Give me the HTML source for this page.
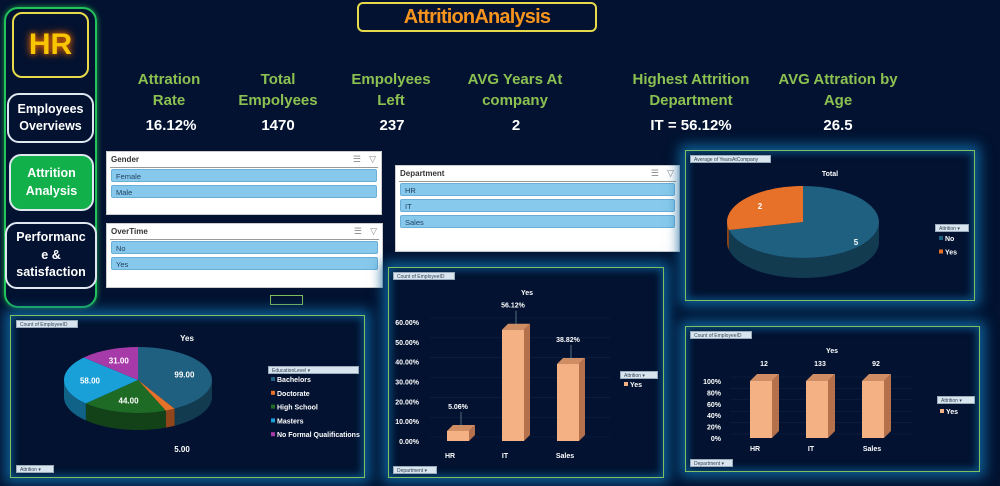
<!DOCTYPE html>
<html><head><meta charset="utf-8"><style>
body{margin:0;width:1000px;height:486px;background:#021230;overflow:hidden;font-family:"Liberation Sans",sans-serif;position:relative}
.a{position:absolute;box-sizing:border-box}
.nav{border:2px solid #dfe8f0;border-radius:12px;color:#fff;font-weight:bold;font-size:12.5px;text-align:center;display:flex;align-items:center;justify-content:center;line-height:1.4;background:#021230}
.kh{color:#8cc152;font-weight:bold;font-size:15px;text-align:center;line-height:21px;width:160px}
.kv{color:#fff;font-weight:bold;font-size:15px;text-align:center;width:160px;top:117px}
.sl{background:#fff;border:1px solid #ccc}
.sl .t{position:absolute;left:4px;top:3px;font-size:8px;font-weight:bold;color:#333}
.sl .ln{position:absolute;left:3px;right:3px;top:15px;border-top:1px solid #999}
.it{position:absolute;left:4px;right:4px;height:13px;background:#87c9ec;border:1px solid #6aaed6;border-radius:2px;font-size:7.5px;color:#1f3d5c;padding-left:4px;line-height:13px;box-sizing:border-box}
.ic{position:absolute;top:2px;font-size:9px;color:#888}
.pn{border:1px solid #7fbf5f;background:#021230;box-shadow:0 0 12px 5px #0e5f95, inset 0 0 8px 2px #0a4f7f}
.tag{position:absolute;background:#d8e4ee;border:1px solid #9ab;font-size:5px;color:#345;padding:1px 3px;height:8px;box-sizing:border-box;line-height:6px}
</style></head><body>
<div class="a" style="left:4px;top:7px;width:93px;height:301px;border:2px solid #22c35a;border-radius:14px;box-shadow:0 0 6px #1c9a48"></div>
<div class="a" style="left:12px;top:12px;width:77px;height:66px;border:2px solid #e6d94a;border-radius:10px;display:flex;align-items:center;justify-content:center;color:#f7c600;font-weight:bold;font-size:30px;text-shadow:0 0 6px #e06a00,0 0 10px #c04a00">HR</div>
<div class="a nav" style="left:7px;top:93px;width:87px;height:50px">Employees<br>Overviews</div>
<div class="a nav" style="left:9px;top:154px;width:85px;height:57px;background:#12b04b">Attrition<br>Analysis</div>
<div class="a nav" style="left:5px;top:222px;width:92px;height:67px">Performanc<br>e &amp;<br>satisfaction</div>

<div class="a" style="left:357px;top:2px;width:240px;height:30px;border:2px solid #e6d94a;border-radius:6px;color:#f7941d;font-weight:bold;font-size:20px;text-align:center;line-height:26px;letter-spacing:-0.8px">AttritionAnalysis</div>

<div class="a kh" style="left:89px;top:69px">Attration<br>Rate</div>
<div class="a kv" style="left:91px">16.12%</div>
<div class="a kh" style="left:198px;top:69px">Total<br>Empolyees</div>
<div class="a kv" style="left:198px">1470</div>
<div class="a kh" style="left:311px;top:69px">Empolyees<br>Left</div>
<div class="a kv" style="left:312px">237</div>
<div class="a kh" style="left:435px;top:69px">AVG Years At<br>company</div>
<div class="a kv" style="left:436px">2</div>
<div class="a kh" style="left:611px;top:69px">Highest Attrition<br>Department</div>
<div class="a kv" style="left:611px">IT = 56.12%</div>
<div class="a kh" style="left:758px;top:69px">AVG Attration by<br>Age</div>
<div class="a kv" style="left:758px">26.5</div>

<div class="a sl" style="left:106px;top:151px;width:276px;height:64px"><div class="t">Gender</div><div class="ic" style="right:20px">☰</div><div class="ic" style="right:5px">▽</div><div class="ln"></div>
<div class="it" style="top:17px">Female</div><div class="it" style="top:33px">Male</div></div>
<div class="a sl" style="left:106px;top:223px;width:277px;height:65px"><div class="t">OverTime</div><div class="ic" style="right:20px">☰</div><div class="ic" style="right:5px">▽</div><div class="ln"></div>
<div class="it" style="top:17px">No</div><div class="it" style="top:33px">Yes</div></div>
<div class="a sl" style="left:395px;top:165px;width:285px;height:87px"><div class="t">Department</div><div class="ic" style="right:20px">☰</div><div class="ic" style="right:5px">▽</div><div class="ln"></div>
<div class="it" style="top:17px">HR</div><div class="it" style="top:33px">IT</div><div class="it" style="top:49px">Sales</div></div>
<div class="a" style="left:270px;top:295px;width:33px;height:10px;border:1px solid #7fbf5f"></div>

<div class="a pn" style="left:10px;top:315px;width:355px;height:163px"></div>
<div class="a pn" style="left:388px;top:267px;width:276px;height:211px"></div>
<div class="a pn" style="left:685px;top:150px;width:290px;height:151px"></div>
<div class="a pn" style="left:685px;top:326px;width:295px;height:146px"></div>

<div class="tag" style="left:16px;top:320px;width:62px">Count of EmployeeID</div>
<div class="tag" style="left:16px;top:465px;width:38px">Attrition ▾</div>
<div class="tag" style="left:268px;top:366px;width:91px">EducationLevel ▾</div>
<div class="tag" style="left:393px;top:272px;width:62px">Count of EmployeeID</div>
<div class="tag" style="left:393px;top:466px;width:44px">Department ▾</div>
<div class="tag" style="left:620px;top:371px;width:38px">Attrition ▾</div>
<div class="tag" style="left:690px;top:155px;width:81px">Average of YearsAtCompany</div>
<div class="tag" style="left:935px;top:224px;width:34px">Attrition ▾</div>
<div class="tag" style="left:690px;top:331px;width:62px">Count of EmployeeID</div>
<div class="tag" style="left:690px;top:459px;width:43px">Department ▾</div>
<div class="tag" style="left:937px;top:396px;width:38px">Attrition ▾</div>

<svg class="a" id="ch" style="left:0;top:0" width="1000" height="486" font-family="Liberation Sans, sans-serif"></svg>
<script>
const eduCats=["Bachelors","Doctorate","High School","Masters","No Formal Qualifications"];
const eduVals=[99,5,44,58,31];
const eduColors=["#1f5f80","#e8712a","#1e6b26","#1aa0d8","#a63aa8"];
const yrsCats=["No","Yes"];
const yrsVals=[5,2];
const yrsColors=["#1f5f80","#e8712a"];
const deptCats=["HR","IT","Sales"];
const deptPct=[5.06,56.12,38.82];
const pctTicks=[0,10,20,30,40,50,60];
const deptCounts=[12,133,92];
const shareTicks=[0,20,40,60,80,100];

const NS="http://www.w3.org/2000/svg";
const svg=document.getElementById('ch');
function mk(tag,attrs,parent){const e=document.createElementNS(NS,tag);for(const k in attrs)e.setAttribute(k,attrs[k]);(parent||svg).appendChild(e);return e;}
function txt(x,y,s,o){const e=mk('text',Object.assign({x:x,y:y,fill:'#fff','font-size':8,'font-weight':'bold','text-anchor':'middle'},o||{}));e.textContent=s;return e;}
function shade(c,f){const n=parseInt(c.slice(1),16);const r=Math.round(((n>>16)&255)*f),g=Math.round(((n>>8)&255)*f),b=Math.round((n&255)*f);return `rgb(${r},${g},${b})`;}

function pie3d(vals,colors,cx,cy,rx,ry,d,name,labelFn){
  const tot=vals.reduce((a,b)=>a+b,0);
  const P=(t,dy)=>[cx+rx*Math.sin(t),cy-ry*Math.cos(t)+(dy||0)];
  let a=0;const sl=[];
  vals.forEach((v,i)=>{const b=a+v/tot*2*Math.PI;sl.push([a,b]);a=b;});
  sl.forEach(([s,e],i)=>{
    const lo=Math.max(s,Math.PI/2),hi=Math.min(e,3*Math.PI/2);
    if(hi>lo){let pts=[];const n=30;
      for(let k=0;k<=n;k++){const t=lo+(hi-lo)*k/n;pts.push(P(t));}
      for(let k=n;k>=0;k--){const t=lo+(hi-lo)*k/n;pts.push(P(t,d));}
      const p=mk('polygon',{points:pts.map(q=>q.join(',')).join(' '),fill:shade(colors[i],0.62)});
      
      
    }
  });
  sl.forEach(([s,e],i)=>{
    let pts=[[cx,cy]];const n=40;
    for(let k=0;k<=n;k++)pts.push(P(s+(e-s)*k/n));
    const p=mk('polygon',{points:pts.map(q=>q.join(',')).join(' '),fill:colors[i]});
    
    
    labelFn(i,(s+e)/2,P);
  });
}
pie3d(eduVals,eduColors,138,380,74,33,17,'edu-pie',(i,m,P)=>{
  let [x,y]=[138+48*Math.sin(m),380-21*Math.cos(m)+3];
  if(i===1){x=182;y=452;}
  const t=txt(x,y,eduVals[i].toFixed(2));
  
  
});
txt(187,341,'Yes');
eduCats.forEach((c,i)=>{const y=382+i*13.8;
  const r=mk('rect',{x:271,y:y-5,width:4,height:4,fill:eduColors[i]});
  
  
  const t=txt(277,y,c,{'text-anchor':'start','font-size':7});
  
  
});
pie3d(yrsVals,yrsColors,803,222,76,36,20,'years-pie',(i,m,P)=>{
  const t=txt(803+55*Math.sin(m)+(i===0?10:0),222-26*Math.cos(m)+(i===0?4:0)+3,String(yrsVals[i]));
  
  
});
txt(830,176,'Total',{'font-size':7});
yrsCats.forEach((c,i)=>{const y=241+i*13.5;
  const r=mk('rect',{x:939,y:y-5,width:4,height:4,fill:yrsColors[i]});
  
  
  const t=txt(945,y,c,{'text-anchor':'start','font-size':7});
  
  
});

function bar3d(x,y0,y1,w,dp,name){
  const g=mk('g',{});
  
  
  mk('polygon',{points:`${x+w},${y1} ${x+w+dp},${y1-dp} ${x+w+dp},${y0-dp} ${x+w},${y0}`,fill:'#b5714c'},g);
  mk('polygon',{points:`${x},${y1} ${x+dp},${y1-dp} ${x+w+dp},${y1-dp} ${x+w},${y1}`,fill:'#d08d63'},g);
  mk('rect',{x:x,y:y1,width:w,height:y0-y1,fill:'#f4b183'},g);
}
const yP=v=>441-v/60*(441-322);
const xP=i=>447+i*55;
pctTicks.forEach(v=>{const y=yP(v);
  mk('line',{x1:430,x2:610,y1:y-4,y2:y-4,stroke:'#0f2448','stroke-width':0.6});
  const t=txt(419,y+3,v.toFixed(2)+'%',{'text-anchor':'end','font-size':7});
  
  
});
deptCats.forEach((c,i)=>{
  bar3d(xP(i),yP(0),yP(deptPct[i]),22,6,'pct-bar-'+c.toLowerCase());
  const t=txt(xP(i)+11,yP(deptPct[i])-22,deptPct[i].toFixed(2)+'%',{'font-size':7});
  
  
  mk('line',{x1:xP(i)+14,x2:xP(i)+14,y1:yP(deptPct[i])-19,y2:yP(deptPct[i])-4,stroke:'#8aa',"stroke-width":0.6});
  const c2=txt(xP(i)+(i===2?8:3),458,c,{'font-size':7});
  
  
});
txt(527,295,'Yes',{'font-size':7});
mk('rect',{x:624,y:382,width:4,height:4,fill:'#f4b183'});
txt(630,387,'Yes',{'text-anchor':'start','font-size':7});

const tot=deptCounts.map(v=>v);
const yS=v=>438-v/100*(438-381);
const xS=i=>750+i*56;
shareTicks.forEach(v=>{const y=yS(v);
  mk('line',{x1:730,x2:912,y1:y-4,y2:y-4,stroke:'#0f2448','stroke-width':0.6});
  const t=txt(721,y+3,v+'%',{'text-anchor':'end','font-size':7});
  
  
});
deptCats.forEach((c,i)=>{
  const share=deptCounts[i]/tot[i]*100;
  bar3d(xS(i),yS(0),yS(share),22,7,'count-bar-'+c.toLowerCase());
  const t=txt(xS(i)+14,yS(share)-15,String(deptCounts[i]),{'font-size':7});
  
  
  const c2=txt(xS(i)+(i===2?10:5),451,c,{'font-size':7});
  
  
});
txt(832,353,'Yes',{'font-size':7});
mk('rect',{x:940,y:409,width:4,height:4,fill:'#f4b183'});
txt(946,414,'Yes',{'text-anchor':'start','font-size':7});
</script>
</body></html>
